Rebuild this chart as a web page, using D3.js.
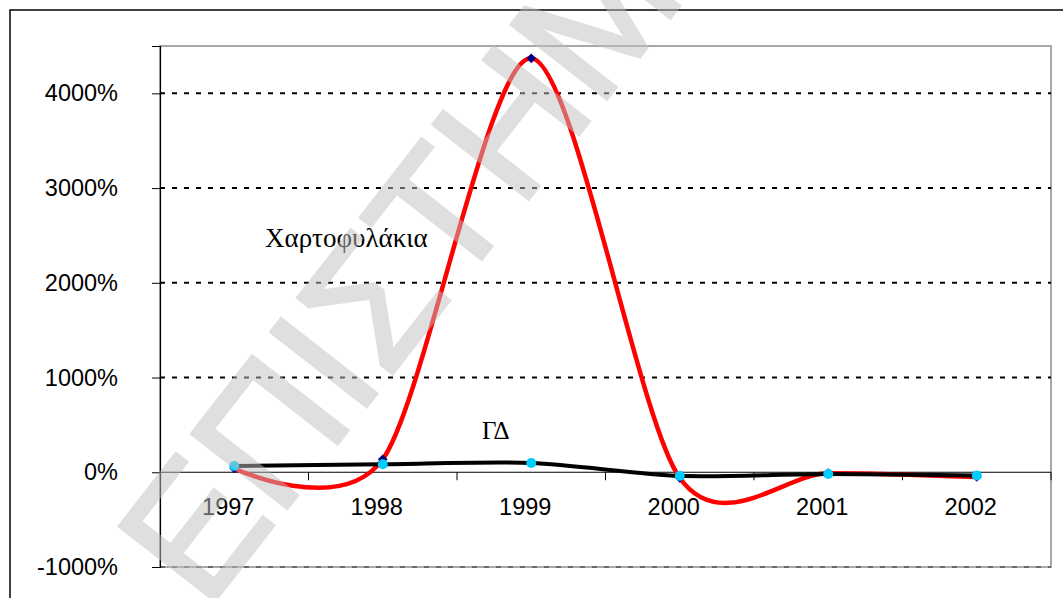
<!DOCTYPE html>
<html>
<head>
<meta charset="utf-8">
<script src="https://cdn.jsdelivr.net/npm/d3@7"></script>
<style>
  html, body { margin: 0; padding: 0; background: #ffffff; }
  svg { display: block; }
</style>
</head>
<body>
<svg id="chart" width="1063" height="598"></svg>
<script>
// Yearly returns (%) of the portfolios and the general index
const years = ["1997", "1998", "1999", "2000", "2001", "2002"];
const portfolioValues = [40, 137, 4370, -60, -10, -50];
const indexValues = [67, 85, 98, -38, -18, -33];
const yTicks = [-1000, 0, 1000, 2000, 3000, 4000];
const gridValues = [-1000, 1000, 2000, 3000, 4000];
const portfolioLabel = "Χαρτοφυλάκια";
const indexLabel = "ΓΔ";
const watermarkText = "ΕΠΙΣΤΗΜ";

const svg = d3.select("#chart");
const plot = { left: 160, right: 1051, top: 46, bottom: 567 };

const x = d3.scaleBand().domain(years).range([plot.left, plot.right]).paddingInner(0).paddingOuter(0);
const y = d3.scaleLinear().domain([-1000, 4500]).range([plot.bottom, plot.top]);
const cx = d => x(d) + x.bandwidth() / 2;

// outer chart frame
svg.append("rect")
  .attr("x", 10).attr("y", 10).attr("width", 1080).attr("height", 620)
  .attr("fill", "#ffffff").attr("stroke", "#000000").attr("stroke-width", 1.5);

// plot area border
svg.append("rect")
  .attr("x", plot.left).attr("y", plot.top)
  .attr("width", plot.right - plot.left).attr("height", plot.bottom - plot.top)
  .attr("fill", "none").attr("stroke", "#8c8c8c").attr("stroke-width", 1.5);

// dotted gridlines
svg.append("g").selectAll("line").data(gridValues).join("line")
  .attr("x1", plot.left).attr("x2", plot.right)
  .attr("y1", d => y(d)).attr("y2", d => y(d))
  .attr("stroke", d => d === -1000 ? "#6a6a6a" : "#000000")
  .attr("stroke-width", 2)
  .attr("stroke-dasharray", "5,7");

// y axis
const yAxis = svg.append("g")
  .attr("transform", `translate(${plot.left},0)`)
  .call(d3.axisLeft(y).tickValues(yTicks).tickSize(8).tickPadding(34).tickFormat(d => d + "%"));
yAxis.select(".domain").attr("stroke", "#000").attr("stroke-width", 1.2);
yAxis.selectAll(".tick line").attr("stroke", "#000").attr("stroke-width", 1);
yAxis.selectAll(".tick text")
  .attr("font-family", "Arial, 'Liberation Sans', sans-serif")
  .attr("font-size", "23.5px").attr("fill", "#000");

// category axis along the zero line
const zeroY = y(0);
svg.append("line")
  .attr("x1", plot.left).attr("x2", plot.right)
  .attr("y1", zeroY).attr("y2", zeroY)
  .attr("stroke", "#000").attr("stroke-width", 1.2);
const boundaries = years.map(d => x(d)).concat([x.range()[1]]);
svg.append("g").selectAll("line").data(boundaries.slice(1)).join("line")
  .attr("x1", d => d).attr("x2", d => d)
  .attr("y1", zeroY).attr("y2", zeroY + 8)
  .attr("stroke", "#000").attr("stroke-width", 1);
svg.append("g").selectAll("text").data(years).join("text")
  .attr("x", d => cx(d) - 6)
  .attr("y", zeroY + 43)
  .attr("text-anchor", "middle")
  .attr("font-family", "Arial, 'Liberation Sans', sans-serif")
  .attr("font-size", "23.5px").attr("fill", "#000")
  .text(d => d);

// smoothed series lines
const line = d3.line().x((d, i) => cx(years[i])).y(d => y(d)).curve(d3.curveCardinal.tension(0.15));

svg.append("path").datum(portfolioValues)
  .attr("d", line).attr("fill", "none")
  .attr("stroke", "#ff0000").attr("stroke-width", 4.5).attr("stroke-linejoin", "round");
svg.append("g").selectAll("path").data(portfolioValues).join("path")
  .attr("d", d3.symbol(d3.symbolDiamond2, 60))
  .attr("transform", (d, i) => `translate(${cx(years[i])},${y(d)})`)
  .attr("fill", "#000080");

svg.append("path").datum(indexValues)
  .attr("d", line).attr("fill", "none")
  .attr("stroke", "#000000").attr("stroke-width", 4).attr("stroke-linejoin", "round");
svg.append("g").selectAll("circle").data(indexValues).join("circle")
  .attr("cx", (d, i) => cx(years[i])).attr("cy", d => y(d)).attr("r", 5)
  .attr("fill", "#00ccff");

// series labels
svg.append("text")
  .attr("x", 265).attr("y", 247)
  .attr("font-family", "'Times New Roman', 'Liberation Serif', serif")
  .attr("font-size", "27px").attr("fill", "#000")
  .text(portfolioLabel);
svg.append("text")
  .attr("x", 482).attr("y", 439)
  .attr("font-family", "'Times New Roman', 'Liberation Serif', serif")
  .attr("font-size", "25px").attr("fill", "#000")
  .text(indexLabel);

// watermark overlay
svg.append("g")
  .attr("opacity", 0.5)
  .append("text")
  .attr("transform", "translate(206,612) rotate(-52)")
  .attr("font-family", "Arial, 'Liberation Sans', sans-serif")
  .attr("font-size", "176px")
  .attr("fill", "#c0c0c0")
  .attr("stroke", "#c0c0c0").attr("stroke-width", 3.5)
  .text(watermarkText);
</script>
</body>
</html>
